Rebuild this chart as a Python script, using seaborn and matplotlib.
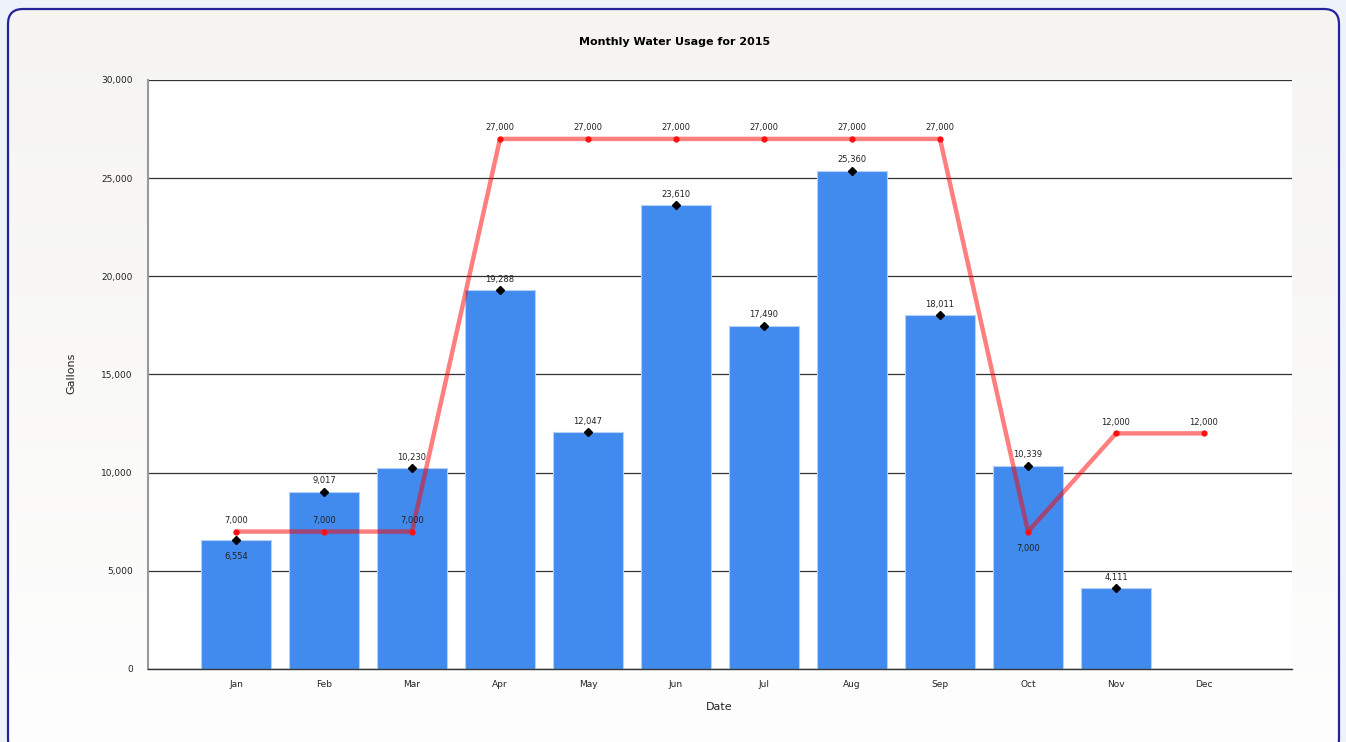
import matplotlib.pyplot as plt
import matplotlib.patches as mpatches
import numpy as np
import pandas as pd
import seaborn as sns

months = ["Jan", "Feb", "Mar", "Apr", "May", "Jun", "Jul", "Aug", "Sep", "Oct", "Nov", "Dec"]
usage = [6554, 9017, 10230, 19288, 12047, 23610, 17490, 25360, 18011, 10339, 4111, np.nan]
target = [7000, 7000, 7000, 27000, 27000, 27000, 27000, 27000, 27000, 7000, 12000, 12000]
y_ticks = [0, 5000, 10000, 15000, 20000, 25000, 30000]
# labels that sit under their point instead of above it
usage_label_below = ["Jan"]
target_label_below = ["Oct"]

df = pd.DataFrame({"Date": months, "Gallons": usage, "Target": target})
df["pos"] = np.arange(len(df))

sns.set_style("white")
plt.rcParams["font.family"] = ["DejaVu Sans"]

W, H = 1346, 742
fig = plt.figure(figsize=(W / 100, H / 100), dpi=100)
fig.patch.set_facecolor("#EEF3FA")

# panel background with a soft gradient and rounded blue frame
bg = fig.add_axes([0, 0, 1, 1], zorder=-10)
bg.set_xlim(0, W)
bg.set_ylim(0, H)
bg.axis("off")
grad = np.linspace(0, 1, 256).reshape(-1, 1)
img = bg.imshow(grad, extent=[0, W, 0, H], aspect="auto",
                cmap=sns.blend_palette(["#FEFEFE", "#F5F4F1"], as_cmap=True),
                origin="lower")
frame = mpatches.FancyBboxPatch((8, -12), W - 15, H - 9 + 12,
                                boxstyle="round,pad=0,rounding_size=15",
                                facecolor="none", edgecolor="#23239A", linewidth=1.6)
bg.add_patch(frame)
img.set_clip_path(frame)

ax = fig.add_axes([148 / W, 73 / H, (1292 - 148) / W, (669 - 80) / H])
ax.set_facecolor("white")

sns.barplot(data=df, x="Date", y="Gallons", order=months, color="#418BEE",
            saturation=1, width=0.8, edgecolor="#B5D1F8", linewidth=0.8,
            ax=ax, zorder=2)

ax.plot(df["pos"], df["Gallons"], linestyle="none", marker="D", markersize=3.6,
        color="black", zorder=3)
sns.lineplot(data=df, x="pos", y="Target", color="#FF0000", alpha=0.5,
             linewidth=3.2, ax=ax, zorder=4)
ax.plot(df["pos"], df["Target"], linestyle="none", marker="o", markersize=3.5,
        color="#FF1010", zorder=5)

for i, row in df.iterrows():
    if not np.isnan(row["Gallons"]):
        dy = -12 if row["Date"] in usage_label_below else 8
        ax.annotate(f"{int(row['Gallons']):,}", (row["pos"], row["Gallons"]),
                    xytext=(0, dy), textcoords="offset points", ha="center",
                    va="center", fontsize=6, color="#222222", zorder=6)
    dy = -12 if row["Date"] in target_label_below else 8
    ax.annotate(f"{int(row['Target']):,}", (row["pos"], row["Target"]),
                xytext=(0, dy), textcoords="offset points", ha="center",
                va="center", fontsize=6, color="#222222", zorder=6)

ax.set_xlim(-1, 12)
ax.set_ylim(0, 30000)
ax.set_yticks(y_ticks)
ax.set_yticklabels([f"{v:,}" for v in y_ticks])
ax.set_xticks(df["pos"])
ax.set_xticklabels(months)
ax.tick_params(axis="both", labelsize=6.5, colors="#333333", labelcolor="#222222")
ax.tick_params(axis="y", length=10, width=0.9, pad=1)
ax.tick_params(axis="x", length=5, width=0.9, pad=3)
ax.set_xticks([-1, 12], minor=True)
ax.tick_params(axis="x", which="minor", length=8, width=1.2, colors="#999999")
ax.yaxis.grid(True, color="#333333", linewidth=0.9)
ax.set_axisbelow(True)
for side in ["top", "right"]:
    ax.spines[side].set_visible(False)
ax.spines["left"].set_color("#999999")
ax.spines["left"].set_linewidth(1.5)
ax.spines["bottom"].set_color("#333333")
ax.spines["bottom"].set_linewidth(1)

ax.set_xlabel("")
ax.set_ylabel("")
fig.text(719 / W, 1 - 707 / H, "Date", ha="center", va="center", fontsize=8, color="#222222")
fig.text(71 / W, 1 - 373 / H, "Gallons", ha="center", va="center", rotation=90,
         fontsize=8, color="#222222")
fig.text(675 / W, 1 - 42 / H, "Monthly Water Usage for 2015", ha="center", va="center",
         fontsize=8, fontweight="bold", color="black")

fig.savefig("out.png", dpi=100, facecolor=fig.get_facecolor())
